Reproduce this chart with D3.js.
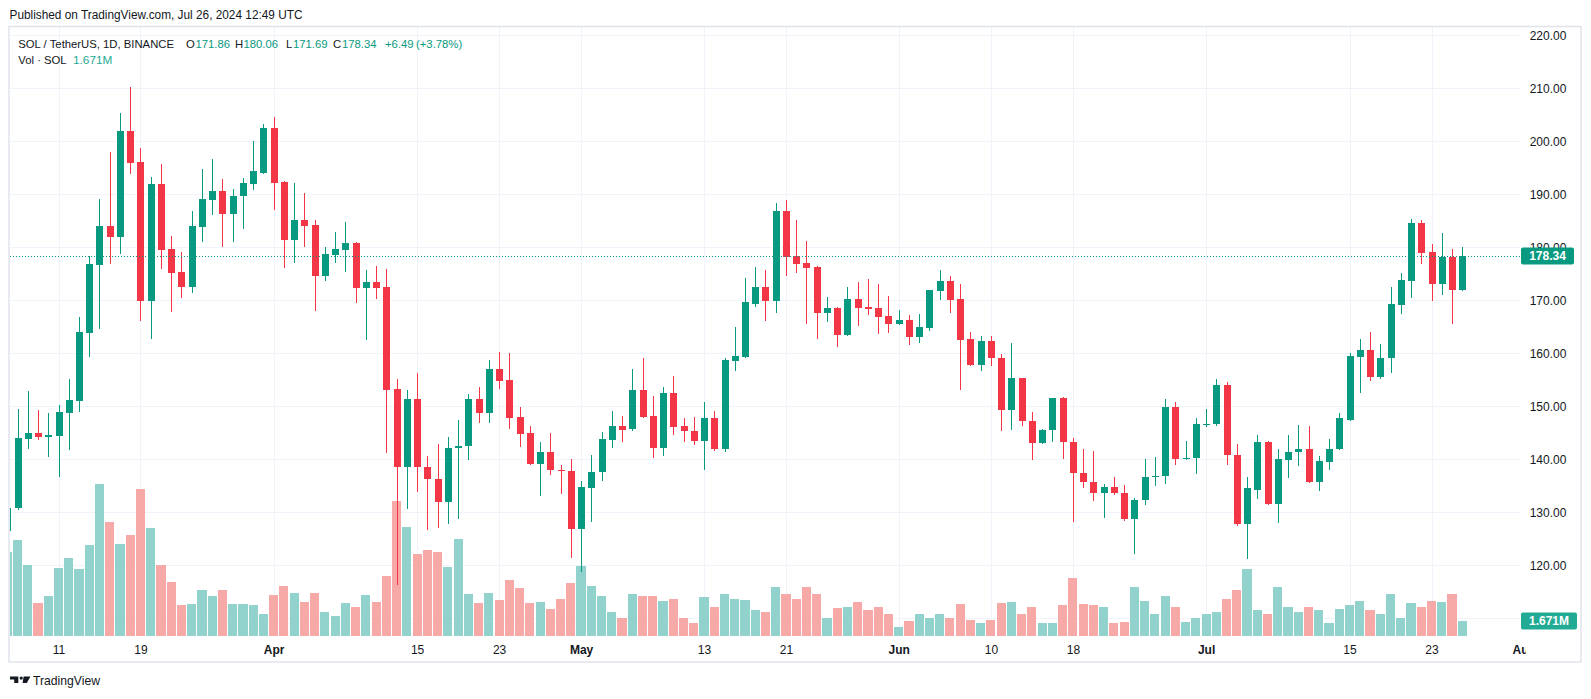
<!DOCTYPE html>
<html><head><meta charset="utf-8">
<script src="https://cdn.jsdelivr.net/npm/d3@7"></script>
<style>html,body{margin:0;padding:0;background:#fff;} svg{display:block;font-family:"Liberation Sans",Arial,sans-serif;}</style>
</head><body>
<svg id="chart" width="1591" height="699"></svg>
<script>
// ---------------- DATA ----------------
const startDate = "2024-03-06"; // first daily candle (partly hidden at left edge)
const opens = [
 126.5,130.8,143.8,144.9,144.3,144.4,148.7,151.0,163.9,176.7,184.0,182.0,202.0,196.1,169.9,192.0,179.6,175.3,172.5,183.9,189.0,190.6,186.3,189.6,192.0,194.1,
 202.5,192.3,181.4,185.1,184.2,174.5,178.6,179.5,180.8,172.3,173.4,172.5,153.2,138.5,151.3,138.6,136.3,131.9,142.1,142.5,151.3,148.7,157.0,154.9,147.9,144.9,139.2,141.4,138.0,137.85,
 126.8,134.5,137.6,143.6,146.2,145.7,153.0,148.1,142.1,152.6,146.2,145.4,143.4,147.7,141.9,158.5,159.3,169.35,172.5,169.9,186.85,178.3,177.0,176.25,167.6,168.5,163.4,170.2,168.7,168.5,167.0,
 165.5,166.2,163.0,164.7,171.8,173.6,170.2,162.65,157.8,162.25,159.1,149.3,155.3,147.3,143.0,145.5,151.5,143.35,137.5,135.8,133.6,134.7,133.7,128.7,132.3,136.6,136.8,149.8,140.0,140.2,
 146.5,146.6,154.1,140.9,127.7,134.3,143.2,131.5,139.8,141.4,142.0,135.7,139.45,141.9,147.5,159.3,160.7,155.5,159.1,169.1,173.6,184.5,179.1,173.1,178.2,171.86
];
const highs = [
 133.0,149.5,152.9,149.3,148.7,150.3,155.1,166.8,178.4,189.1,198.0,205.4,210.3,198.7,193.3,195.7,182.1,179.1,186.9,194.7,196.7,192.9,191.0,193.1,200.1,203.3,
 204.6,192.5,192.2,190.2,185.1,180.0,182.9,184.7,181.0,175.7,176.4,176.0,155.1,153.0,156.2,140.7,142.8,144.3,147.5,152.4,153.6,158.7,160.2,160.0,149.8,146.2,143.2,144.9,139.0,140.0,
 136.0,140.9,145.1,149.2,148.1,157.0,159.2,152.0,153.6,155.8,147.7,147.9,150.9,149.2,159.1,164.9,174.2,176.25,175.65,188.3,188.9,185.1,181.15,176.4,170.6,168.7,172.5,173.5,174.0,173.1,170.9,
 168.1,167.2,167.4,172.0,175.65,174.5,173.1,164.0,163.2,163.2,159.8,161.9,155.4,149.0,145.8,151.5,151.8,143.95,142.0,141.5,135.4,136.7,135.2,132.75,140.0,140.5,151.3,150.9,143.4,147.7,
 149.4,155.1,154.5,142.8,136.7,144.5,143.4,142.0,144.5,146.4,146.2,140.7,143.75,148.7,160.0,162.65,164.0,161.7,172.5,175.1,185.3,185.1,180.6,182.75,179.6,180.06
];
const lows = [
 122.0,130.5,142.0,143.6,140.5,136.7,141.7,148.9,159.3,164.6,176.9,178.8,193.9,166.1,162.7,175.9,167.8,170.5,171.4,181.0,186.1,180.1,181.0,183.5,190.9,193.9,
 187.1,176.1,177.0,180.1,168.0,173.7,177.0,175.4,169.4,162.5,170.2,141.2,116.2,130.6,133.8,126.6,127.0,127.7,128.8,139.8,146.8,146.8,153.2,145.7,142.3,138.85,133.0,137.1,133.5,121.3,
 118.7,128.2,136.0,142.2,143.2,145.4,147.7,140.2,140.7,144.5,143.2,142.7,137.9,141.6,141.4,156.7,159.1,168.75,166.1,167.6,174.5,175.1,165.6,162.65,166.0,161.1,163.2,165.1,167.2,163.6,163.85,
 165.3,161.6,161.9,164.3,170.0,167.6,153.0,157.55,156.7,157.55,145.3,145.6,146.3,139.8,142.9,143.2,140.0,128.1,134.5,132.1,128.9,133.2,128.3,122.1,131.35,134.9,135.3,139.0,139.8,137.2,
 146.1,146.3,139.0,127.4,121.1,132.5,131.3,127.9,136.5,138.65,135.5,134.1,138.05,141.7,147.2,152.6,154.7,155.1,156.2,167.4,170.4,176.8,169.8,171.0,165.6,171.69
];
const closes = [
 130.8,144.0,144.9,144.2,144.5,148.9,151.1,164.0,176.8,184.0,182.0,202.0,196.0,169.9,192.0,179.5,175.2,172.5,184.0,189.1,190.6,186.3,189.6,192.2,194.4,202.5,
 192.2,181.4,185.1,184.1,174.5,178.7,179.6,180.8,172.3,173.4,172.3,153.0,138.5,151.3,138.5,136.3,131.9,142.2,142.6,151.3,148.7,157.0,154.8,147.8,144.75,139.2,141.4,137.9,137.7,126.8,
 134.7,137.65,143.75,146.2,145.6,153.0,147.9,142.1,152.6,146.1,145.3,143.4,147.7,141.9,158.7,159.4,169.6,172.5,169.9,186.85,178.2,176.8,176.05,167.6,168.5,163.4,170.2,168.5,168.3,166.8,165.5,
 166.2,163.0,164.9,171.9,173.6,170.0,162.45,157.8,162.25,159.1,149.3,155.3,147.2,143.0,145.6,151.5,143.2,137.4,135.7,133.6,134.7,133.6,128.7,132.4,136.7,136.9,149.8,140.0,140.3,146.7,
 146.7,154.1,140.8,127.7,134.5,143.2,131.5,140.0,141.4,142.0,135.7,139.6,142.0,147.7,159.4,160.7,155.5,159.2,169.3,173.8,184.5,179.0,173.1,178.2,171.85,178.34
];
// volume in millions of SOL
const volumes = [
 9.61,10.99,8.08,3.70,4.50,7.75,8.88,7.63,10.38,17.43,13.05,10.51,11.55,16.85,12.36,8.08,6.13,3.46,3.58,5.20,4.50,5.20,3.58,3.58,3.46,2.44,
 4.63,5.76,4.95,3.82,4.95,2.65,2.20,3.70,3.33,4.63,3.82,6.82,15.48,12.49,9.37,9.82,9.57,7.87,11.07,4.83,3.70,4.95,4.07,6.45,5.44,3.70,3.82,3.00,4.26,6.00,
 7.95,5.76,4.50,2.76,2.07,4.75,4.50,4.50,3.94,4.15,1.96,1.39,4.39,3.33,4.83,4.15,4.07,2.89,2.65,5.64,4.75,4.26,5.56,4.83,1.96,3.12,3.25,3.82,2.89,3.33,2.52,
 1.03,1.64,2.44,2.07,2.52,2.07,3.58,1.76,1.39,1.76,3.70,3.82,2.52,3.25,1.39,1.39,3.46,6.57,3.58,3.46,3.25,1.39,1.51,5.56,3.94,2.52,4.50,3.33,1.51,2.07,
 2.48,2.76,4.15,5.20,7.63,2.89,2.52,5.64,3.33,2.65,3.33,2.89,1.39,3.00,3.46,3.94,2.89,2.52,4.75,2.07,3.70,3.33,3.94,3.82,4.83,1.671
];
const timeTickDates = ["2024-03-11","2024-03-19","2024-04-01","2024-04-15","2024-04-23","2024-05-01","2024-05-13","2024-05-21","2024-06-01","2024-06-10","2024-06-18","2024-07-01","2024-07-15","2024-07-23","2024-08-01"];
const timeTickLabels = ["11","19","Apr","15","23","May","13","21","Jun","10","18","Jul","15","23","Aug"];
const monthLabels = ["Apr","May","Jun","Jul","Aug"];
const priceTicks = [120,130,140,150,160,170,180,190,200,210,220];
const priceGrid = [110,120,130,140,150,160,170,180,190,200,210,220];
const lastPrice = 178.34;
const lastVolume = 1.671;

// ---------------- SETUP ----------------
const UP = "#089981", DOWN = "#f23645", UPV = "#92d2cc", DOWNV = "#f7a9a7";
const TXT = "#131722", GRID = "#f0f3fa";
const pane = {left:10, right:1520, top:27, bottom:636};
const parse = d3.utcParse("%Y-%m-%d");
const start = parse(startDate);
const data = opens.map((o,i)=>({date:d3.utcDay.offset(start,i), o, h:highs[i], l:lows[i], c:closes[i], v:volumes[i]}));

const x = d3.scaleUtc().domain([parse("2024-03-11"), parse("2024-07-23")]).range([58.5, 1431.5]);
const y = d3.scaleLinear().domain([120, 210]).range([565.3, 88.3]);
const yv = d3.scaleLinear().domain([0, 20]).range([635.5, 461.9]);

const svg = d3.select("#chart");
const defs = svg.append("defs");
defs.append("clipPath").attr("id","paneClip").append("rect")
  .attr("x",pane.left).attr("y",pane.top).attr("width",pane.right-pane.left).attr("height",pane.bottom-pane.top);
defs.append("clipPath").attr("id","timeClip").append("rect")
  .attr("x",pane.left).attr("y",pane.bottom).attr("width",pane.right-pane.left+6).attr("height",28);

svg.append("rect").attr("width",1591).attr("height",699).attr("fill","#fff");

// grid
const grid = svg.append("g").attr("clip-path","url(#paneClip)").attr("shape-rendering","crispEdges");
grid.selectAll("line.h").data(priceGrid).join("line").attr("class","h")
  .attr("x1",pane.left).attr("x2",pane.right)
  .attr("y1",d=>Math.round(y(d))+0.5).attr("y2",d=>Math.round(y(d))+0.5)
  .attr("stroke",GRID).attr("stroke-width",1);
grid.selectAll("line.v").data(timeTickDates.map(parse)).join("line").attr("class","v")
  .attr("x1",d=>Math.round(x(d))+0.5).attr("x2",d=>Math.round(x(d))+0.5)
  .attr("y1",pane.top).attr("y2",pane.bottom)
  .attr("stroke",GRID).attr("stroke-width",1);

// plot
const plot = svg.append("g").attr("clip-path","url(#paneClip)");
const step = x(parse("2024-03-12")) - x(parse("2024-03-11"));
const bw = step - 1.1;
plot.append("g").attr("shape-rendering","crispEdges").selectAll("rect").data(data).join("rect")
  .attr("x",d=>x(d.date)-bw/2).attr("width",bw)
  .attr("y",d=>yv(d.v)).attr("height",d=>yv(0)-yv(d.v))
  .attr("fill",d=>d.c>=d.o?UPV:DOWNV);

const candles = plot.append("g").attr("shape-rendering","crispEdges").selectAll("g").data(data).join("g");
candles.append("rect")
  .attr("x",d=>Math.round(x(d.date))).attr("width",1)
  .attr("y",d=>y(d.h)).attr("height",d=>Math.max(1,y(d.l)-y(d.h)))
  .attr("fill",d=>d.c>=d.o?UP:DOWN);
candles.append("rect")
  .attr("x",d=>Math.round(x(d.date))-3).attr("width",7)
  .attr("y",d=>y(Math.max(d.o,d.c))).attr("height",d=>Math.max(1.2,Math.abs(y(d.o)-y(d.c))))
  .attr("fill",d=>d.c>=d.o?UP:DOWN);

// last price dotted line
plot.append("line").attr("x1",pane.left).attr("x2",pane.right)
  .attr("y1",Math.round(y(lastPrice))+0.5).attr("y2",Math.round(y(lastPrice))+0.5)
  .attr("stroke",UP).attr("stroke-width",1).attr("stroke-dasharray","1,2");

// price axis
const pAxis = svg.append("g").attr("transform","translate(1548,0)")
  .call(d3.axisRight(y).tickValues(priceTicks).tickFormat(d3.format(".2f")).tickSize(0).tickPadding(0));
pAxis.select(".domain").remove();
pAxis.selectAll("text").attr("x",0).attr("text-anchor","middle").attr("fill",TXT)
  .attr("font-size",12).attr("font-family","'Liberation Sans',Arial,sans-serif");

// price label boxes
svg.append("rect").attr("x",1521).attr("y",y(lastPrice)-8.5).attr("width",53).attr("height",17).attr("rx",2).attr("fill",UP);
svg.append("text").attr("x",1547.5).attr("y",y(lastPrice)+4.3).attr("text-anchor","middle")
  .attr("fill","#fff").attr("font-size",12).attr("font-weight","bold").text(d3.format(".2f")(lastPrice));
svg.append("rect").attr("x",1521).attr("y",yv(lastVolume)-8.5).attr("width",56).attr("height",17).attr("rx",2).attr("fill","#22ab94");
svg.append("text").attr("x",1549).attr("y",yv(lastVolume)+4.3).attr("text-anchor","middle")
  .attr("fill","#fff").attr("font-size",12).attr("font-weight","bold").text(lastVolume.toFixed(3)+"M");

// time axis
const tAxis = svg.append("g").attr("clip-path","url(#timeClip)").append("g").attr("transform",`translate(0,${pane.bottom})`)
  .call(d3.axisBottom(x).tickValues(timeTickDates.map(parse)).tickFormat((d,i)=>timeTickLabels[i]).tickSize(0).tickPadding(0));
tAxis.select(".domain").remove();
tAxis.selectAll("text").attr("y",13.5).attr("dy","0.35em").attr("fill",TXT).attr("font-size",12)
  .attr("font-family","'Liberation Sans',Arial,sans-serif")
  .attr("font-weight",function(){return monthLabels.includes(this.textContent)?"bold":"normal";});

// frame
svg.append("rect").attr("x",9).attr("y",26.5).attr("width",1572).attr("height",635.5)
  .attr("fill","none").attr("stroke","#e0e3eb").attr("stroke-width",1.5);

// header text
svg.append("text").attr("x",9.5).attr("y",19).attr("font-size",12.5).attr("fill",TXT)
  .attr("textLength",293).attr("lengthAdjust","spacingAndGlyphs")
  .text("Published on TradingView.com, Jul 26, 2024 12:49 UTC");

// legend
const leg = svg.append("g").attr("font-size",11.3);
const legendItems = [
  {t:"SOL / TetherUS, 1D, BINANCE", x:18.3, c:TXT},
  {t:"O", x:186, c:TXT}, {t:"171.86", x:195.5, c:UP},
  {t:"H", x:235, c:TXT}, {t:"180.06", x:243.5, c:UP},
  {t:"L", x:286, c:TXT}, {t:"171.69", x:293, c:UP},
  {t:"C", x:333, c:TXT}, {t:"178.34", x:342, c:UP},
  {t:"+6.49", x:385, c:UP}, {t:"(+3.78%)", x:416, c:UP}
];
legendItems.forEach(d=>{
  leg.append("text").attr("x",d.x).attr("y",47.5).attr("fill",d.c).text(d.t);
});
leg.append("text").attr("x",18.3).attr("y",64).attr("fill",TXT).text("Vol · SOL");
leg.append("text").attr("x",73).attr("y",64).attr("fill","#22ab94").attr("font-size",11.8).text(lastVolume.toFixed(3)+"M");

// TradingView logo
const logo = svg.append("g").attr("fill",TXT);
logo.append("path").attr("d","M10,676.5 H18.3 V683 H14.2 V679.6 H10 Z");
logo.append("circle").attr("cx",21.2).attr("cy",678.1).attr("r",1.6);
logo.append("path").attr("d","M23.6,676.5 H30.4 L26.8,683 H22.6 Z");
svg.append("text").attr("x",33).attr("y",685).attr("font-size",13).attr("fill",TXT)
  .attr("textLength",67).attr("lengthAdjust","spacingAndGlyphs").text("TradingView");
</script>
</body></html>
